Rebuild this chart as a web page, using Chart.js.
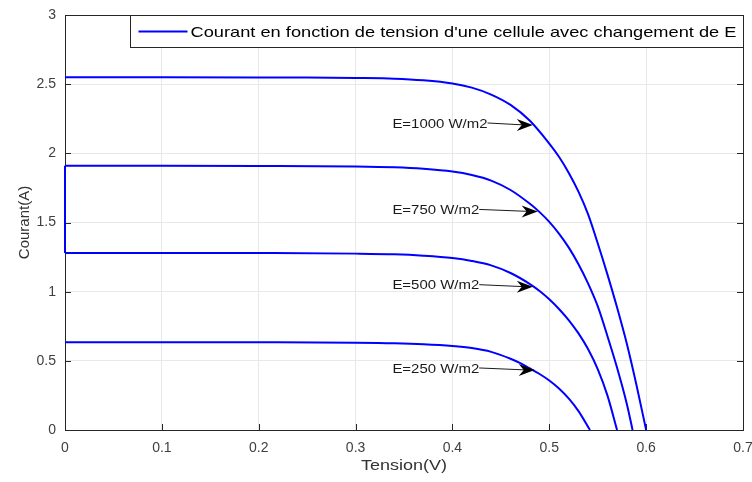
<!DOCTYPE html>
<html>
<head>
<meta charset="utf-8">
<script src="https://cdn.jsdelivr.net/npm/chart.js@4"></script>
<style>
  html, body { margin: 0; padding: 0; background: #fff; }
  #wrap { width: 752px; height: 482px; position: relative; }
</style>
</head>
<body>
<div id="wrap"><canvas id="c"></canvas></div>
<script>
// courbes I(V) pour chaque eclairement
const v1000 = [0, 0.1, 0.2, 0.25, 0.3, 0.34, 0.37, 0.4, 0.42, 0.44, 0.46, 0.48, 0.5, 0.51, 0.52, 0.53, 0.54, 0.55, 0.56, 0.57, 0.58, 0.59, 0.6];
const i1000 = [2.55, 2.55, 2.549, 2.548, 2.545, 2.54, 2.528, 2.505, 2.475, 2.425, 2.35, 2.235, 2.07, 1.975, 1.86, 1.725, 1.56, 1.35, 1.125, 0.885, 0.625, 0.325, 0];

const v750 = [0, 0.1, 0.2, 0.3, 0.34, 0.37, 0.4, 0.42, 0.44, 0.46, 0.48, 0.49, 0.5, 0.51, 0.52, 0.53, 0.54, 0.55, 0.56, 0.57, 0.58, 0.586];
const i750 = [1.91, 1.91, 1.909, 1.905, 1.899, 1.888, 1.868, 1.843, 1.803, 1.735, 1.635, 1.575, 1.505, 1.42, 1.32, 1.2, 1.06, 0.895, 0.68, 0.45, 0.19, 0];

const v500 = [0, 0.1, 0.2, 0.3, 0.34, 0.37, 0.4, 0.42, 0.44, 0.46, 0.48, 0.49, 0.5, 0.51, 0.52, 0.53, 0.54, 0.55, 0.56, 0.57];
const i500 = [1.28, 1.28, 1.279, 1.275, 1.27, 1.26, 1.243, 1.222, 1.19, 1.135, 1.055, 1.005, 0.945, 0.875, 0.795, 0.7, 0.585, 0.44, 0.25, 0];

const v250 = [0, 0.1, 0.2, 0.3, 0.34, 0.37, 0.4, 0.42, 0.44, 0.46, 0.47, 0.48, 0.49, 0.5, 0.51, 0.52, 0.53, 0.542];
const i250 = [0.635, 0.635, 0.634, 0.631, 0.627, 0.62, 0.607, 0.592, 0.565, 0.515, 0.483, 0.445, 0.405, 0.358, 0.3, 0.228, 0.138, 0];

// trait vertical a V=0 visible sur la figure
const vLink = [0, 0];
const iLink = [1.91, 1.28];

const xTicks = [0, 0.1, 0.2, 0.3, 0.4, 0.5, 0.6, 0.7];
const yTicks = [0, 0.5, 1, 1.5, 2, 2.5, 3];

// annotations: texte, pointe de la fleche (V, I), debut du texte (V)
const annoLabels = ['E=1000 W/m2', 'E=750 W/m2', 'E=500 W/m2', 'E=250 W/m2'];
const annoTipV = [0.483, 0.488, 0.483, 0.485];
const annoTipI = [2.205, 1.58, 1.036, 0.434];
const annoTextV = [0.338, 0.338, 0.338, 0.338];

const legendText = "Courant en fonction de tension d'une cellule avec changement de E";
const xTitle = 'Tension(V)';
const yTitle = 'Courant(A)';
const BLUE = '#0000ff';
const AXIS = '#262626';
const FONT = '"Liberation Sans", Arial, sans-serif';
const STRETCH = 1.2; // la figure d'origine est un peu etiree en largeur

const toPts = (vs, is) => vs.map((v, k) => ({ x: v, y: is[k] }));

const curves = [[v1000, i1000], [v750, i750], [v500, i500], [v250, i250], [vLink, iLink]];

// texte etire horizontalement
function wideText(ctx, txt, x, y, sx, align) {
  const w = ctx.measureText(txt).width * sx;
  const left = align === 'center' ? x - w / 2 : x;
  ctx.save();
  ctx.translate(left, y);
  ctx.scale(sx, 1);
  ctx.textAlign = 'left';
  ctx.fillText(txt, 0, 0);
  ctx.restore();
  return w;
}

const matlabPlugin = {
  id: 'matlab',
  beforeDatasetsDraw(chart) {
    const { ctx, chartArea: a, scales } = chart;
    const xs = scales.x, ys = scales.y;
    ctx.save();
    // cadre + graduations vers l'interieur
    ctx.strokeStyle = AXIS;
    ctx.lineWidth = 1;
    ctx.strokeRect(Math.round(a.left) + 0.5, Math.round(a.top) + 0.5,
      Math.round(a.right - a.left), Math.round(a.bottom - a.top));
    ctx.beginPath();
    xTicks.forEach(t => {
      const px = Math.round(xs.getPixelForValue(t)) + 0.5;
      ctx.moveTo(px, a.bottom); ctx.lineTo(px, a.bottom - 6);
      ctx.moveTo(px, a.top); ctx.lineTo(px, a.top + 6);
    });
    yTicks.forEach(t => {
      const py = Math.round(ys.getPixelForValue(t)) + 0.5;
      ctx.moveTo(a.left, py); ctx.lineTo(a.left + 6, py);
      ctx.moveTo(a.right, py); ctx.lineTo(a.right - 6, py);
    });
    ctx.stroke();

    // titres des axes
    ctx.fillStyle = '#333';
    ctx.font = '15px ' + FONT;
    ctx.textBaseline = 'middle';
    wideText(ctx, xTitle, (a.left + a.right) / 2, 466, STRETCH, 'center');
    ctx.save();
    ctx.translate(25, (a.top + a.bottom) / 2);
    ctx.rotate(-Math.PI / 2);
    ctx.textAlign = 'center';
    ctx.fillText(yTitle, 0, 0);
    ctx.restore();
    ctx.restore();
  },
  afterDatasetsDraw(chart) {
    const { ctx, chartArea: a, scales } = chart;
    const xs = scales.x, ys = scales.y;
    ctx.save();

    // fleches + textes
    ctx.font = '13px ' + FONT;
    ctx.textBaseline = 'middle';
    annoLabels.forEach((lab, k) => {
      const tx = xs.getPixelForValue(annoTextV[k]);
      const px = xs.getPixelForValue(annoTipV[k]);
      const py = ys.getPixelForValue(annoTipI[k]);
      ctx.fillStyle = '#1a1a1a';
      const w = wideText(ctx, lab, tx, py - 1, 1.15, 'left');
      const sx = tx + w;
      ctx.strokeStyle = '#1a1a1a';
      ctx.lineWidth = 1;
      ctx.beginPath();
      ctx.moveTo(sx, py - 2);
      ctx.lineTo(px - 8, py);
      ctx.stroke();
      ctx.fillStyle = '#000';
      ctx.beginPath();
      ctx.moveTo(px, py);
      ctx.lineTo(px - 16, py - 6);
      ctx.lineTo(px - 11, py);
      ctx.lineTo(px - 16, py + 6);
      ctx.closePath();
      ctx.fill();
    });

    // legende
    ctx.font = '15px ' + FONT;
    const tw = ctx.measureText(legendText).width;
    const sxL = 546 / tw;
    const bx = 130.5, by = Math.round(a.top) + 0.5;
    const bw = Math.round(a.right) - 130, bh = 32;
    ctx.fillStyle = '#fff';
    ctx.fillRect(bx, by, bw, bh);
    ctx.strokeStyle = AXIS;
    ctx.lineWidth = 1;
    ctx.strokeRect(bx, by, bw, bh);
    ctx.strokeStyle = BLUE;
    ctx.lineWidth = 2;
    ctx.beginPath();
    ctx.moveTo(bx + 8, by + bh / 2);
    ctx.lineTo(bx + 57, by + bh / 2);
    ctx.stroke();
    ctx.fillStyle = '#000';
    wideText(ctx, legendText, bx + 60, by + bh / 2 + 1, sxL, 'left');

    ctx.restore();
  }
};

new Chart(document.getElementById('c'), {
  type: 'line',
  data: {
    datasets: curves.map(([vs, is], k) => ({
      label: legendText,
      data: toPts(vs, is),
      borderColor: BLUE,
      borderWidth: 2,
      pointRadius: 0,
      fill: false,
      clip: false,
      cubicInterpolationMode: k < 4 ? 'monotone' : 'default',
      tension: 0
    }))
  },
  options: {
    responsive: true,
    maintainAspectRatio: false,
    animation: false,
    layout: { padding: { top: 15, right: 9, left: 0, bottom: 0 } },
    plugins: {
      legend: { display: false },
      tooltip: { enabled: false }
    },
    scales: {
      x: {
        type: 'linear',
        min: 0, max: 0.7,
        afterBuildTicks: s => { s.ticks = xTicks.map(v => ({ value: v })); },
        afterFit: s => { s.height = 52; s.paddingLeft = 0; s.paddingRight = 0; },
        grid: { color: '#e8e8e8', drawTicks: false },
        border: { display: false },
        ticks: {
          padding: 10,
          color: '#404040',
          maxRotation: 0,
          font: { family: FONT, size: 14 },
          callback: v => String(v)
        }
      },
      y: {
        type: 'linear',
        min: 0, max: 3,
        afterBuildTicks: s => { s.ticks = yTicks.map(v => ({ value: v })); },
        afterFit: s => { s.width = 65; s.paddingTop = 0; s.paddingBottom = 0; },
        grid: { color: '#e8e8e8', drawTicks: false },
        border: { display: false },
        ticks: {
          padding: 9,
          color: '#404040',
          font: { family: FONT, size: 14 },
          callback: v => String(v)
        }
      }
    }
  },
  plugins: [matlabPlugin]
});
</script>
</body>
</html>
